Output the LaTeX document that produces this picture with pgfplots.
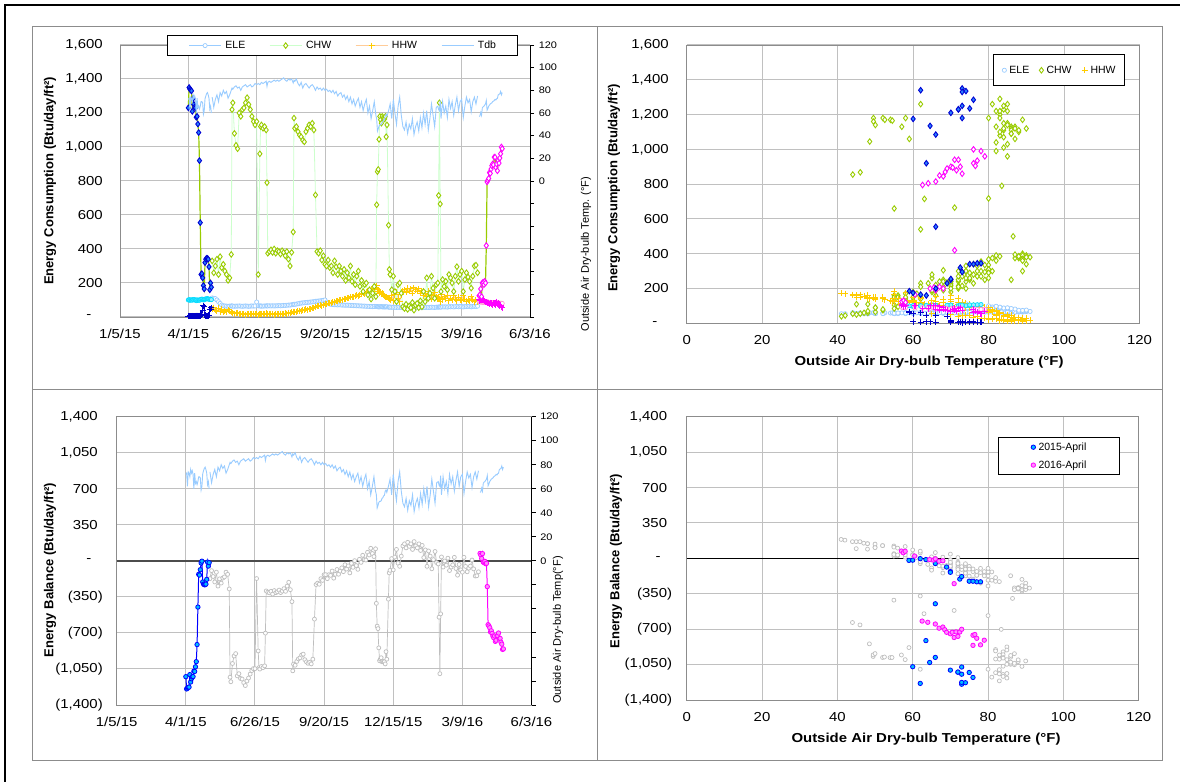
\documentclass[border=0pt]{standalone}
\usepackage{fontspec}
\setmainfont{Liberation Sans}
\usepackage{pgfplots}
\usepackage{pgfplotstable}
\pgfplotsset{compat=1.18}

\definecolor{eleC}{RGB}{153,204,255}
\definecolor{tdbC}{RGB}{153,204,255}
\definecolor{chwM}{RGB}{153,204,0}
\definecolor{chwL}{RGB}{204,255,204}
\definecolor{hhwM}{RGB}{255,204,0}
\definecolor{hhwL}{RGB}{255,204,153}
\definecolor{aEle}{RGB}{0,220,255}
\definecolor{aChwD}{RGB}{0,0,210}
\definecolor{aChwF}{RGB}{40,130,255}
\definecolor{aHhw}{RGB}{0,0,200}
\definecolor{bMag}{RGB}{255,0,255}
\definecolor{bEle}{RGB}{255,150,210}
\definecolor{gridC}{RGB}{192,192,192}
\definecolor{frameC}{RGB}{140,140,140}
\definecolor{balG}{RGB}{190,190,190}
\definecolor{b15}{RGB}{0,0,255}
\definecolor{b15F}{RGB}{0,190,255}
\definecolor{b16F}{RGB}{255,140,255}

\newcommand{\tfont}{\fontsize{13}{15}\selectfont}
\newcommand{\sfont}{\fontsize{9.5}{11}\selectfont}
\newcommand{\lfont}{\fontsize{13}{15}\selectfont\bfseries}
\newcommand{\rfont}{\fontsize{11}{13}\selectfont}
\newcommand{\gfont}{\fontsize{10.5}{12}\selectfont}

% daily values, April 2015: day (from 1/5/15), Tdb, ELE, CHW, HHW
\pgfplotstableread{
day T ELE CHW HHW
86 72 100 1230 5
87 73 102 1350 4
88 62 98 1340 6
89 74 101 1335 5
90 73 100 1330 4
91 70 99 1210 6
92 76 103 1285 5
93 73 101 1250 4
94 75 102 1235 5
95 72 100 1230 6
96 60 96 1175 8
97 73 101 1180 5
98 64.5 98 1135 8
99 66 100 1085 6
100 63.5 99 920 8
101 66 100 555 6
102 70 104 250 15
103 70 105 255 12
104 69 104 230 40
105 59 100 185 65
106 62 102 165 60
107 72.5 105 320 10
108 75 106 340 8
109 77 107 345 6
110 78 108 345 5
111 76 106 340 8
112 73 105 295 10
113 63.5 103 160 45
114 66 104 200 45
115 60 102 175 55
}\aprA

% May 2015 - March 2016
\pgfplotstableread{
day T ELE CHW HHW
116 74 112 330 45
118 65 110 260 55
120 72 108 300 40
122 76 100 340 35
124 70 90 250 50
126 78 80 355 30
128 75 70 290 45
130 80 66 310 28
132 77 65 270 38
134 79 64 250 30
136 73 63 215 42
138 76 64 230 35
140 80 65 368 30
141 82 65 1220 25
142 81 64 1260 22
144 83 63 1080 20
146 84 64 1010 22
148 82 64 990 25
150 83 65 1200 18
152 80 64 1180 20
154 83 63 1220 15
156 84 64 1230 18
158 85 65 1260 12
160 83 64 1290 15
162 84 63 1250 20
164 85 64 1220 18
166 83 65 1180 15
168 84 64 1150 20
170 86 65 1130 18
172 85 88 1150 15
174 86 66 250 12
176 85 65 960 20
177 86 65 1120 18
178 87 64 1130 15
180 86 64 1110 20
182 87 65 1120 18
184 88 65 1100 15
185 83.5 66 790 22
186 87 65 375 18
188 88 66 385 15
190 87 65 395 20
192 88 66 380 18
194 89 65 400 12
196 88 66 375 20
198 89 66 390 15
200 88 67 385 18
202 89 66 370 20
204 90 67 390 15
206 91 68 380 18
208 89 68 360 22
210 88 69 385 20
212 90 70 340 25
214 89 70 300 22
216 90 72 380 28
218 86.5 74 500 30
219 89 74 1170 28
220 88 75 1110 32
222 90 76 1120 30
224 86 78 1090 35
226 84 80 1070 38
228 87 82 1060 36
230 82 83 1040 42
232 85 84 1030 40
234 86 85 1090 45
236 84 86 1110 43
238 82 87 1130 48
240 84 88 1120 46
242 85 89 1140 50
244 83 90 1100 55
246 80 92 718 60
248 83 93 385 62
250 81 94 375 65
252 82 95 390 68
254 80 96 335 66
256 82 98 360 72
258 80 100 310 75
260 81 88 300 78
262 79 80 335 82
264 80 76 290 80
266 78 74 300 85
268 80 73 260 88
270 77 72 330 90
272 79 72 295 92
274 75 71 250 95
276 77 72 300 98
278 78 71 270 100
280 74 70 240 102
282 76 70 280 105
284 72 69 215 108
286 75 70 260 110
288 70 69 230 112
290 74 68 300 115
292 68 68 210 118
294 72 67 250 120
296 66 67 190 125
298 70 66 240 128
300 73 66 270 122
302 65 65 180 130
304 70 65 215 135
306 62 64 150 140
308 68 64 190 138
310 72 63 200 145
312 60 63 130 150
314 66 62 160 155
316 55 62 105 165
318 62 61 140 150
320 70 62 180 160
322 58 62 120 175
323 55 62 660 185
324 44 61 855 160
325 46 60 868 150
326 48.5 60 1045 140
327 49.5 60 1180 150
328 49.5 61 1160 145
329 50 61 1140 138
330 52 60 1180 140
331 52.5 60 1170 135
332 54 59 1170 130
333 54.5 60 1165 125
334 58 59 1180 120
335 59 60 1060 118
336 57 60 1130 115
338 62 58 540 110
339 65 58 280 105
340 68 58 250 100
342 55 57 160 125
344 72 57 240 95
346 60 57 150 130
348 50 56 90 145
350 66 57 190 110
352 74 57 200 90
354 58 56 140 130
356 48 55 60 150
358 45 55 50 160
360 52 56 75 145
362 42 55 45 170
364 50 56 65 150
366 46 55 55 165
368 55 56 85 140
370 41 55 40 172
372 48 55 70 160
374 52 56 80 150
376 44 55 55 165
378 56 56 95 140
380 47 55 60 155
382 60 57 150 125
384 50 56 90 140
386 62 57 230 120
388 45 56 110 150
390 55 56 140 130
392 68 58 240 105
394 58 57 170 125
396 48 56 110 145
398 65 58 190 115
400 66 58 200 112
401 63 58 715 110
402 62 59 1260 105
403 71 60 665 90
404 55 58 150 130
406 70 60 220 100
408 60 59 180 120
410 66 60 210 108
412 56 58 160 128
414 72 61 250 95
416 64 60 230 110
418 70 61 200 100
420 58 59 150 125
422 67 61 240 105
424 74 62 296 95
426 62 60 210 115
428 70 62 250 100
430 72 62 270 98
432 56 59 150 125
434 66 61 220 105
436 74 62 260 92
438 69 62 235 102
440 72 63 210 96
442 61 60 170 118
444 70 62 240 100
446 74 63 300 90
448 68 62 305 98
450 75 64 260 90
}\mainT

% April 2016
\pgfplotstableread{
day T ELE CHW HHW
452 57 92 125 105
453 57.5 90 130 95
454 60.5 88 165 100
455 58 90 120 100
456 64.5 86 200 102
457 65.5 88 205 100
458 66 85 190 100
459 67 87 210 95
460 68 86 200 90
461 71 84 420 86
462 62.5 90 795 85
463 64 88 805 85
464 66 86 815 80
465 67 85 850 75
466 68 86 845 80
467 68.5 85 870 80
468 69 84 890 75
469 70 84 900 70
470 70.5 85 895 80
471 71 83 940 75
472 72 84 940 85
473 71.5 83 880 70
474 72.5 82 900 90
475 73 84 860 75
476 76 80 920 80
477 76.5 82 905 70
478 77 80 935 65
479 79 81 960 70
480 76 80 1000 60
481 78 80 990 55
}\aprB

\pgfplotsset{
  panel/.style={
    scale only axis, anchor=south west, clip=false,
    grid=major, grid style={gridC, line width=1pt},
    axis line style={frameC, line width=0.9pt},
    major tick length=0pt,
    tick label style={font=\tfont, inner sep=0pt},
    xticklabel style={xscale=1.15, anchor=north, yshift=-12pt},
    yticklabel style={xscale=1.15, anchor=east},
  },
  tempaxis/.style={
    scale only axis, anchor=south west, clip=false,
    axis x line=none, axis y line*=right,
    xmin=0, xmax=516, ymin=-120, ymax=120,
    ytick={-120,-100,...,120}, yticklabels={,,,,,,0,20,40,60,80,100,120},
    tick align=outside, major tick length=4pt,
    y axis line style={black, line width=0.9pt},
    ytick style={black, line width=0.9pt},
    yticklabel style={font=\sfont, xscale=1.15, inner sep=0pt, anchor=west, xshift=4pt},
  },
  dates/.style={
    xmin=0, xmax=516, xtick={0,86,172,258,344,430,516},
    xticklabels={1/5/15,4/1/15,6/26/15,9/20/15,12/15/15,3/9/16,6/3/16},
  },
  eleT/.style={color=eleC, line width=0.7pt, mark=*, mark size=2.1pt,
    mark options={draw=eleC, fill=white, line width=0.7pt}},
  chwT/.style={color=chwL, line width=0.8pt, mark=diamond*, mark size=2.8pt,
    mark options={draw=chwM, fill=white, line width=0.9pt}},
  hhwT/.style={color=hhwL, line width=0.8pt, mark=+, mark size=3pt,
    mark options={draw=hhwM, line width=1pt}},
  ele15/.style={color=aEle, line width=0.7pt, mark=*, mark size=2.1pt,
    mark options={draw=aEle, fill=aEle!40, line width=0.7pt}},
  hhw15/.style={color=aHhw, line width=0.8pt, mark=+, mark size=3pt,
    mark options={draw=aHhw, line width=1.1pt}},
  chw15/.style={color=chwM, line width=1.2pt, mark=diamond*, mark size=2.8pt,
    mark options={draw=aChwD, fill=aChwF, line width=0.9pt}},
  ele16/.style={color=bEle, line width=0.7pt, mark=*, mark size=2.1pt,
    mark options={draw=bEle, fill=white, line width=0.7pt}},
  hhw16/.style={color=bMag, line width=0.8pt, mark=+, mark size=3pt,
    mark options={draw=bMag, line width=1.1pt}},
  chw16/.style={color=chwM, line width=1.2pt, mark=diamond*, mark size=2.8pt,
    mark options={draw=bMag, fill=white, line width=0.9pt}},
  tdbT/.style={color=tdbC, line width=0.9pt, mark=none},
  balT/.style={color=balG, line width=0.7pt, mark=*, mark size=2pt,
    mark options={draw=balG, fill=white, line width=0.7pt}},
  bal15/.style={color=b15, line width=1pt, mark=*, mark size=2.2pt,
    mark options={draw=b15, fill=b15F, line width=0.8pt}},
  bal16/.style={color=bMag, line width=1pt, mark=*, mark size=2.2pt,
    mark options={draw=bMag, fill=b16F, line width=0.8pt}},
}

\begin{document}
\begin{tikzpicture}[x=1pt,y=1pt]
\useasboundingbox (0,0) rectangle (1180,782);
\fill[white] (0,0) rectangle (1180,782);
\draw[line width=2pt] (1180,777) -- (5,777) -- (5,0);
\draw[frameC, line width=1pt] (32,392) rectangle (597,755);
\draw[frameC, line width=1pt] (597,392) rectangle (1162,755);
\draw[frameC, line width=1pt] (32,22) rectangle (597,392);
\draw[frameC, line width=1pt] (597,22) rectangle (1162,392);

% ---------- daily energy use over time ----------
\begin{axis}[panel, dates, at={(120pt,465pt)}, width=410pt, height=272pt,
  ymin=0, ymax=1600, ytick={0,200,...,1600},
  yticklabels={{-\hspace*{10pt}},200,400,600,800,{1,000},{1,200},{1,400},{1,600}},
  yticklabel style={xshift=-14.8pt},
  legend columns=4,
  legend image code/.code={\draw[mark repeat=2,mark phase=2] plot coordinates {(0pt,0pt)(16pt,0pt)(32pt,0pt)};},
  legend style={at={(0.1139,1.0368)}, anchor=north west, draw=black, line width=1.1pt,
    fill=white, font=\gfont, inner xsep=21.5pt, inner ysep=5.5pt, nodes={inner sep=0pt},
    /tikz/every odd column/.append style={column sep=4pt},
    /tikz/every even column/.append style={column sep=24pt}},
]
\addplot[forget plot, eleT] table[x=day, y=ELE] {\mainT};
\addplot[forget plot, hhwT] table[x=day, y=HHW] {\mainT};
\addplot[forget plot, chwT] table[x=day, y=CHW] {\mainT};
\addplot[forget plot, ele15] table[x=day, y=ELE] {\aprA};
\addplot[forget plot, hhw15] table[x=day, y=HHW] {\aprA};
\addplot[forget plot, chw15] table[x=day, y=CHW] {\aprA};
\addplot[forget plot, ele16] table[x=day, y=ELE] {\aprB};
\addplot[forget plot, hhw16] table[x=day, y=HHW] {\aprB};
\addplot[forget plot, chw16] table[x=day, y=CHW] {\aprB};
\addlegendimage{eleT}
\addlegendentry{ELE}
\addlegendimage{chwT}
\addlegendentry{CHW}
\addlegendimage{hhwT}
\addlegendentry{HHW}
\addlegendimage{tdbT}
\addlegendentry{Tdb}
\end{axis}
\begin{axis}[tempaxis, at={(120pt,465pt)}, width=410pt, height=272pt]
\addplot[tdbT] table[x=day, y=T] {\aprA};
\addplot[tdbT] table[x=day, y=T] {\mainT};
\addplot[tdbT] table[x=day, y=T] {\aprB};
\end{axis}

% ---------- energy use against outdoor temperature ----------
\begin{axis}[panel, at={(686.7pt,458.7pt)}, width=452.8pt, height=278.3pt,
  xmin=0, xmax=120, xtick={0,20,...,120}, xticklabels={0,20,40,60,80,100,120},
  ymin=0, ymax=1600, ytick={0,200,...,1600},
  yticklabels={{-\hspace*{10pt}},200,400,600,800,{1,000},{1,200},{1,400},{1,600}},
  yticklabel style={xshift=-15.4pt},
  legend columns=3,
  legend image code/.code={\draw[#1] plot coordinates {(0pt,0pt)};},
  legend style={at={(0.6758,0.9666)}, anchor=north west, draw=black, line width=1.1pt,
    fill=white, font=\gfont, inner xsep=9pt, inner ysep=11pt, nodes={inner sep=0pt},
    /tikz/every odd column/.append style={column sep=3pt},
    /tikz/every even column/.append style={column sep=10pt}},
]
\addplot[only marks, eleT] table[x=T, y=ELE] {\mainT};
\addlegendentry{ELE}
\addplot[only marks, chwT] table[x=T, y=CHW] {\mainT};
\addlegendentry{CHW}
\addplot[only marks, hhwT] table[x=T, y=HHW] {\mainT};
\addlegendentry{HHW}
\addplot[forget plot, only marks, ele15] table[x=T, y=ELE] {\aprA};
\addplot[forget plot, only marks, ele16] table[x=T, y=ELE] {\aprB};
\addplot[forget plot, only marks, hhw16] table[x=T, y=HHW] {\aprB};
\addplot[forget plot, only marks, hhw15] table[x=T, y=HHW] {\aprA};
\addplot[forget plot, only marks, chw16] table[x=T, y=CHW] {\aprB};
\addplot[forget plot, only marks, chw15] table[x=T, y=CHW] {\aprA};
\end{axis}

% ---------- energy balance over time ----------
\begin{axis}[panel, dates, at={(116.7pt,77pt)}, width=414.8pt, height=288.3pt,
  ymin=-1400, ymax=1400, ytick={-1400,-1050,...,1400},
  yticklabels={{(1,400)},{(1,050)},{(700)},{(350)},{-\hspace*{10pt}},{350\hphantom{)}},{700\hphantom{)}},{1,050\hphantom{)}},{1,400\hphantom{)}}},
  yticklabel style={xshift=-11.9pt},
  extra y ticks={0}, extra y tick labels={},
  extra y tick style={grid style={black!70, line width=1.6pt}},
]
\addplot[balT] table[x=day, y expr=\thisrow{ELE}+\thisrow{HHW}-\thisrow{CHW}] {\mainT};
\addplot[bal15] table[x=day, y expr=\thisrow{ELE}+\thisrow{HHW}-\thisrow{CHW}] {\aprA};
\addplot[bal16] table[x=day, y expr=\thisrow{ELE}+\thisrow{HHW}-\thisrow{CHW}] {\aprB};
\end{axis}
\begin{axis}[tempaxis, at={(116.7pt,77pt)}, width=414.8pt, height=288.3pt]
\addplot[tdbT] table[x=day, y=T] {\aprA};
\addplot[tdbT] table[x=day, y=T] {\mainT};
\addplot[tdbT] table[x=day, y=T] {\aprB};
\end{axis}

% ---------- energy balance against outdoor temperature ----------
\begin{axis}[panel, at={(686.7pt,82pt)}, width=452pt, height=283.3pt,
  xmin=0, xmax=120, xtick={0,20,...,120}, xticklabels={0,20,40,60,80,100,120},
  ymin=-1400, ymax=1400, ytick={-1400,-1050,...,1400},
  yticklabels={{(1,400)},{(1,050)},{(700)},{(350)},{-\hspace*{10pt}},{350\hphantom{)}},{700\hphantom{)}},{1,050\hphantom{)}},{1,400\hphantom{)}}},
  yticklabel style={xshift=-12.5pt},
  extra y ticks={0}, extra y tick labels={},
  extra y tick style={grid style={black, line width=1.4pt}},
  legend columns=1, legend cell align=left,
  legend image code/.code={\draw[#1] plot coordinates {(0pt,0pt)};},
  legend style={at={(0.6878,0.9273)}, anchor=north west, draw=black, line width=1.1pt,
    fill=white, font=\gfont, inner xsep=33pt, inner ysep=4.8pt, nodes={inner sep=0pt},
    row sep=8.8pt, /tikz/every odd column/.append style={column sep=3pt}},
]
\addplot[forget plot, only marks, balT] table[x=T, y expr=\thisrow{ELE}+\thisrow{HHW}-\thisrow{CHW}] {\mainT};
\addplot[only marks, bal15] table[x=T, y expr=\thisrow{ELE}+\thisrow{HHW}-\thisrow{CHW}] {\aprA};
\addlegendentry{2015-April}
\addplot[only marks, bal16] table[x=T, y expr=\thisrow{ELE}+\thisrow{HHW}-\thisrow{CHW}] {\aprB};
\addlegendentry{2016-April}
\end{axis}

% ---------- axis titles ----------
\node[rotate=90, font=\lfont] at (50,601) {Energy Consumption (Btu/day/ft²)};
\node[rotate=90, font=\rfont] at (586,528) {Outside Air Dry-bulb Temp. (°F)};
\node[rotate=90, font=\lfont] at (614,594) {Energy Consumption (Btu/day/ft²)};
\node[font=\lfont, xscale=1.15] at (929,420.3) {Outside Air Dry-bulb Temperature (°F)};
\node[rotate=90, font=\lfont] at (50,212) {Energy Balance (Btu/day/ft²)};
\node[rotate=90, font=\rfont] at (558,152) {Outside Air Dry-bulb Temp(°F)};
\node[rotate=90, font=\lfont] at (616,221) {Energy Balance (Btu/day/ft²)};
\node[font=\lfont, xscale=1.15] at (926,42.7) {Outside Air Dry-bulb Temperature (°F)};
\end{tikzpicture}
\end{document}
